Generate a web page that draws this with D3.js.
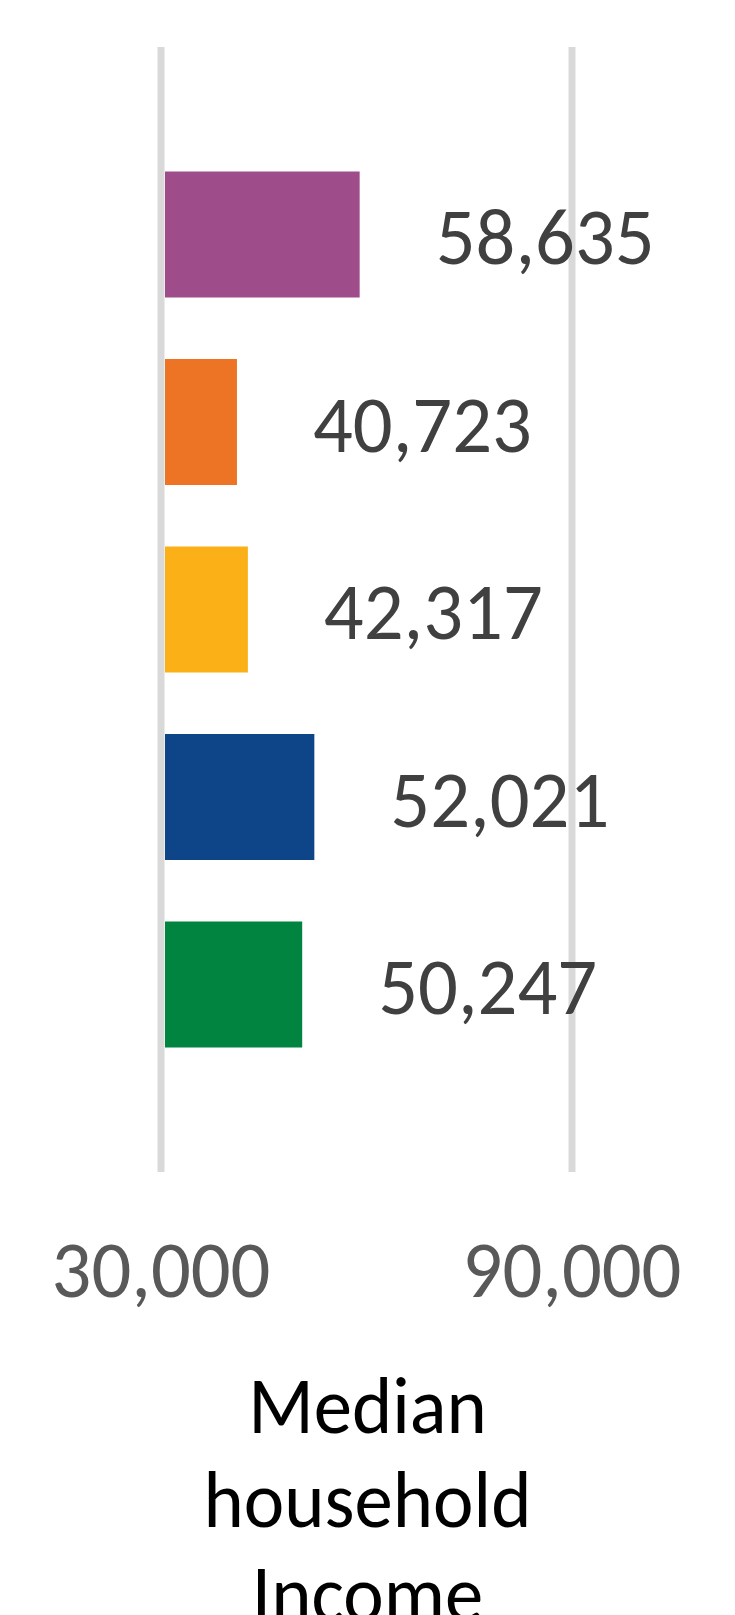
<!DOCTYPE html>
<html>
<head>
<meta charset="utf-8">
<script src="https://cdn.jsdelivr.net/npm/d3@7"></script>
<style>
  html, body { margin: 0; padding: 0; background: #ffffff; }
  svg { display: block; }
  text { font-family: Carlito, Calibri, Lato, "Open Sans", sans-serif; }
</style>
</head>
<body>
<svg id="chart" width="735" height="1615"></svg>
<script>
// ---- data ----
const categories = ["Category 1", "Category 2", "Category 3", "Category 4", "Category 5"];
const values = [58635, 40723, 42317, 52021, 50247];
const barColors = ["#9f4c8b", "#ec7424", "#fcb017", "#0e4488", "#00843f"];
const tickValues = [30000, 90000];
const axisDomain = [30000, 90000];
const titleLines = ["Median", "household", "Income"];

// ---- layout ----
const W = 735, H = 1615;
const plotTop = 47, plotBottom = 1172;
const svg = d3.select("#chart");

const x = d3.scaleLinear().domain(axisDomain).range([160.5, 571.5]);
const y = d3.scaleBand().domain(categories).range([plotTop, plotBottom])
  .paddingInner(0.328).paddingOuter(0.664);

const FONT = 80;
const fmt = d3.format(",");

// measure helper for horizontal compression (source chart is narrow)
function measure(str, size) {
  const t = svg.append("text").attr("font-size", size).text(str);
  const w = t.node().getComputedTextLength();
  t.remove();
  return w;
}
const sxNum = 219 / measure("58,635", FONT);
const sxTitle = 328 / measure("household", FONT);

// ---- gridlines + tick labels via axis ----
const axis = d3.axisBottom(x)
  .tickValues(tickValues)
  .tickSize(-(plotBottom - plotTop))
  .tickFormat(fmt);

const gAxis = svg.append("g")
  .attr("transform", `translate(0,${plotBottom})`)
  .call(axis);
gAxis.select(".domain").remove();
gAxis.selectAll(".tick line")
  .attr("stroke", "#d9d9d9")
  .attr("stroke-width", 7);
gAxis.selectAll(".tick text")
  .attr("y", 125)
  .attr("dy", 0)
  .attr("font-size", FONT)
  .attr("font-family", null)
  .attr("fill", "#595959")
  .attr("text-anchor", "middle")
  .attr("transform", `scale(${sxNum},1)`);

// ---- bars ----
const BAR_START_DX = 4.5, BAR_END_DX = 3;
svg.append("g").selectAll("rect")
  .data(values)
  .join("rect")
  .attr("x", x(axisDomain[0]) + BAR_START_DX)
  .attr("y", (d, i) => y(categories[i]))
  .attr("width", d => x(d) + BAR_END_DX - (x(axisDomain[0]) + BAR_START_DX))
  .attr("height", y.bandwidth())
  .attr("fill", (d, i) => barColors[i]);

// ---- value labels ----
svg.append("g").selectAll("g")
  .data(values)
  .join("g")
  .attr("transform", (d, i) =>
    `translate(${x(d) + BAR_END_DX + 76},${y(categories[i]) + y.bandwidth() / 2 + 29.5}) scale(${sxNum},1)`)
  .append("text")
  .attr("font-size", FONT)
  .attr("fill", "#404040")
  .attr("text-anchor", "start")
  .text(d => fmt(d));

// ---- axis title ----
svg.append("g").selectAll("g")
  .data(titleLines)
  .join("g")
  .attr("transform", (d, i) => `translate(${W / 2},${1432.5 + i * 94}) scale(${sxTitle},1)`)
  .append("text")
  .attr("font-size", FONT)
  .attr("fill", "#000000")
  .attr("text-anchor", "middle")
  .text(d => d);
</script>
</body>
</html>
